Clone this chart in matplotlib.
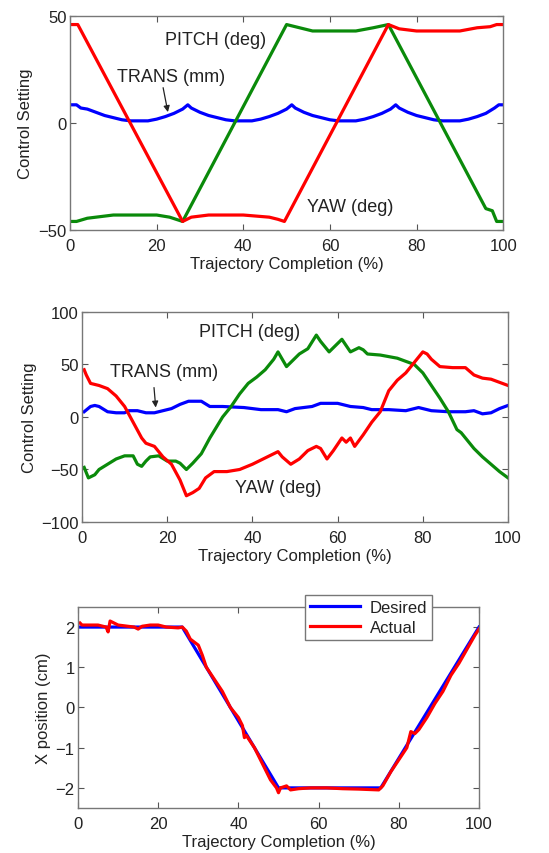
import matplotlib
matplotlib.use("Agg")
import matplotlib.pyplot as plt

plt.rcParams["font.family"] = ["Liberation Sans", "DejaVu Sans"]
plt.rcParams["font.size"] = 12

BLUE, RED, GREEN = "#0000ff", "#ff0000", "#0a8a0a"
INK = "#222222"

# --- panel 1: commanded control settings ---
p1_trans_x = [0.5, 1.5, 2.5, 4, 6, 8, 10, 12, 14, 18, 20, 22, 24, 26, 27.2, 28, 30, 32, 34,
              36, 38, 42, 44, 46, 48, 50, 51.2, 52, 54, 56, 58, 60, 62, 66, 68, 70, 72, 74,
              75.2, 76, 78, 80, 82, 84, 86, 90, 92, 94, 96, 98, 99, 100]
p1_trans_y = [8.5, 8.5, 7, 6.5, 5, 3.5, 2.5, 1.5, 1, 1, 1.8, 3, 4.5, 6.5, 8.5, 7, 5, 3.5, 2.5,
              1.5, 1, 1, 1.8, 3, 4.5, 6.5, 8.5, 7, 5, 3.5, 2.5, 1.5, 1, 1, 1.8, 3, 4.5, 6.5,
              8.5, 7, 5, 3.5, 2.5, 1.5, 1, 1, 1.8, 3, 4.5, 7, 8.5, 8.5]
p1_yaw_x = [0.5, 1.8, 26, 28, 32, 40, 46, 48, 49.5, 73.5, 76, 80, 90, 94, 97, 98.5, 100]
p1_yaw_y = [46, 46, -46, -44, -43, -43, -44, -45, -46, 46, 44, 43, 43, 44.5, 45, 46, 46]
p1_pitch_x = [0.5, 1.5, 4, 8, 10, 20, 23, 26, 50, 52, 56, 66, 70, 73.5, 96, 97.5, 98.5, 100]
p1_pitch_y = [-46, -46, -44.5, -43.5, -43, -43, -44, -46, 46, 45, 43, 43, 44.5, 46, -40, -41,
              -46, -46]

# --- panel 2: measured control settings ---
p2_yaw_x = [0.5, 1, 2, 4, 6, 8, 10, 12, 14, 15, 17, 19, 21, 23, 24.5, 26, 27.5, 29, 31, 34,
            37, 40, 44, 46, 47, 49, 51, 53, 55, 56, 57.5, 59, 61, 62, 63, 64, 66, 68, 70, 72,
            74, 76, 78, 80, 81, 82, 84, 87, 90, 92, 94, 96, 98, 100]
p2_yaw_y = [45, 40, 32, 30, 27, 20, 10, -5, -20, -25, -28, -38, -45, -60, -75, -72, -68, -58,
            -52, -52, -50, -45, -37, -33, -38, -45, -40, -32, -28, -30, -40, -32, -20, -24,
            -20, -28, -17, -5, 5, 25, 35, 42, 52, 62, 60, 55, 48, 47, 47, 40, 37, 36, 33, 30]
p2_pitch_x = [0.5, 1.5, 3, 4, 6, 8, 10, 12, 13, 14, 15, 16, 18, 20, 22, 23, 24.5, 26, 28, 30,
              33, 35, 37, 39, 41, 43, 45, 46, 47, 48, 49, 51, 53, 55, 56, 58, 60, 61, 62, 63,
              64, 65, 66, 67, 70, 74, 78, 80, 82, 84, 86, 88, 89, 92, 94, 96, 98, 100]
p2_pitch_y = [-48, -58, -55, -50, -45, -40, -37, -37, -45, -47, -42, -38, -37, -42, -42, -44,
              -50, -44, -35, -20, 0, 10, 22, 32, 38, 45, 55, 62, 55, 48, 52, 60, 65, 78, 72,
              62, 70, 74, 68, 62, 64, 66, 64, 60, 59, 56, 50, 42, 30, 18, 5, -12, -15, -30,
              -38, -45, -52, -58]
p2_trans_x = [0.5, 2, 3, 4, 6, 8, 10, 11, 13, 15, 17, 19, 21, 23, 25, 28, 30, 33, 38, 42, 46,
              48, 50, 54, 56, 60, 63, 66, 68, 72, 76, 78, 79, 80, 82, 86, 90, 92, 94, 96, 98,
              100]
p2_trans_y = [5, 10, 11, 10, 5, 4, 4, 6, 6, 4, 4, 6, 8, 12, 15, 15, 10, 10, 9, 7, 7, 5, 8, 10,
              13, 13, 10, 9, 7, 7, 6, 8, 9, 8, 6, 5, 5, 6, 3, 4, 8, 11]

# --- panel 3: x position ---
p3_des_x = [0, 26, 50, 75.5, 100]
p3_des_y = [2, 2, -2, -2, 2]
p3_act_x = [0.5, 1, 3, 5, 7, 7.5, 8, 9, 10, 14, 15, 16, 18, 20, 22, 25, 26, 27, 28, 30, 31,
            32, 34, 36, 38, 40, 41, 41.5, 42, 44, 46, 48, 49.5, 50, 50.5, 52, 53, 55, 58, 62,
            66, 70, 75, 76, 78, 80, 82, 83, 84, 85, 87, 89, 91, 93, 95, 97, 99, 100]
p3_act_y = [2.1, 2.05, 2.05, 2.05, 2.0, 1.88, 2.15, 2.1, 2.05, 2.0, 1.95, 2.02, 2.05, 2.05, 2.0,
            1.98, 2.0, 1.9, 1.7, 1.55, 1.3, 1.0, 0.7, 0.4, 0.0, -0.25, -0.45, -0.75, -0.7,
            -1.0, -1.4, -1.8, -2.0, -2.12, -2.0, -1.95, -2.05, -2.02, -2.0, -2.0, -2.02,
            -2.03, -2.05, -1.95, -1.6, -1.3, -1.0, -0.6, -0.65, -0.55, -0.25, 0.1, 0.4, 0.8,
            1.1, 1.45, 1.8, 1.95]

LW = 2.3
ARROW = dict(arrowstyle="-|>", color=INK, lw=0.9, shrinkA=0, shrinkB=0, mutation_scale=9)


def style(ax, ylim, yticks, ylabels):
    ax.set_xlim(0, 100)
    ax.set_ylim(*ylim)
    ax.set_xticks([0, 20, 40, 60, 80, 100])
    ax.set_yticks(yticks)
    ax.set_yticklabels(ylabels)
    ax.tick_params(direction="in", top=True, right=True, length=4, colors="#555555",
                   labelcolor=INK, labelsize=12)
    ax.tick_params(axis="x", pad=6)
    ax.tick_params(axis="y", pad=2.5)
    for s in ax.spines.values():
        s.set_color("#777777")
        s.set_linewidth(1.0)
    ax.set_xlabel("Trajectory Completion (%)", color=INK, fontsize=12, labelpad=2)


fig = plt.figure(figsize=(5.49, 8.54), dpi=100)

ax1 = fig.add_axes([0.1275, 0.7295, 0.789, 0.2506])
ax1.plot(p1_trans_x, p1_trans_y, color=BLUE, lw=LW)
ax1.plot(p1_pitch_x, p1_pitch_y, color=GREEN, lw=LW)
ax1.plot(p1_yaw_x, p1_yaw_y, color=RED, lw=LW)
style(ax1, (-50, 50), [-50, 0, 50], ["\u221250", "0", "50"])
ax1.set_ylabel("Control Setting", color=INK, fontsize=12, labelpad=4)
ax1.text(22, 39, "PITCH (deg)", fontsize=13, color=INK, va="center")
ax1.text(54.7, -38.8, "YAW (deg)", fontsize=13, color=INK, va="center")
ax1.text(10.8, 21.5, "TRANS (mm)", fontsize=13, color=INK, va="center")
ax1.annotate("", xy=(22.6, 5.1), xytext=(21.5, 16.5), arrowprops=ARROW)

ax2 = fig.add_axes([0.1494, 0.3876, 0.776, 0.2459])
ax2.plot(p2_trans_x, p2_trans_y, color=BLUE, lw=LW)
ax2.plot(p2_pitch_x, p2_pitch_y, color=GREEN, lw=LW)
ax2.plot(p2_yaw_x, p2_yaw_y, color=RED, lw=LW)
style(ax2, (-100, 100), [-100, -50, 0, 50, 100],
      ["\u2212100", "\u221250", "0", "50", "100"])
ax2.set_ylabel("Control Setting", color=INK, fontsize=12, labelpad=3)
ax2.text(27.5, 81, "PITCH (deg)", fontsize=13, color=INK, va="center")
ax2.text(36, -67.6, "YAW (deg)", fontsize=13, color=INK, va="center")
ax2.text(6.6, 43.8, "TRANS (mm)", fontsize=13, color=INK, va="center")
ax2.annotate("", xy=(17.3, 9.0), xytext=(16.9, 28), arrowprops=ARROW)

ax3 = fig.add_axes([0.1421, 0.0527, 0.7304, 0.2354])
ax3.plot(p3_des_x, p3_des_y, color=BLUE, lw=LW, label="Desired")
ax3.plot(p3_act_x, p3_act_y, color=RED, lw=LW, label="Actual")
style(ax3, (-2.5, 2.5), [-2, -1, 0, 1, 2], ["\u22122", "\u22121", "0", "1", "2"])
ax3.set_ylabel("X position (cm)", color=INK, fontsize=12, labelpad=3)
leg = ax3.legend(loc="upper right", bbox_to_anchor=(0.883, 1.06), borderaxespad=0,
                 fancybox=False, framealpha=1, edgecolor="#777777", fontsize=12,
                 handlelength=3.0, labelcolor=INK, borderpad=0.3, labelspacing=0.3,
                 handletextpad=0.6)
leg.get_frame().set_linewidth(1.0)

fig.savefig("out.png", dpi=100)
